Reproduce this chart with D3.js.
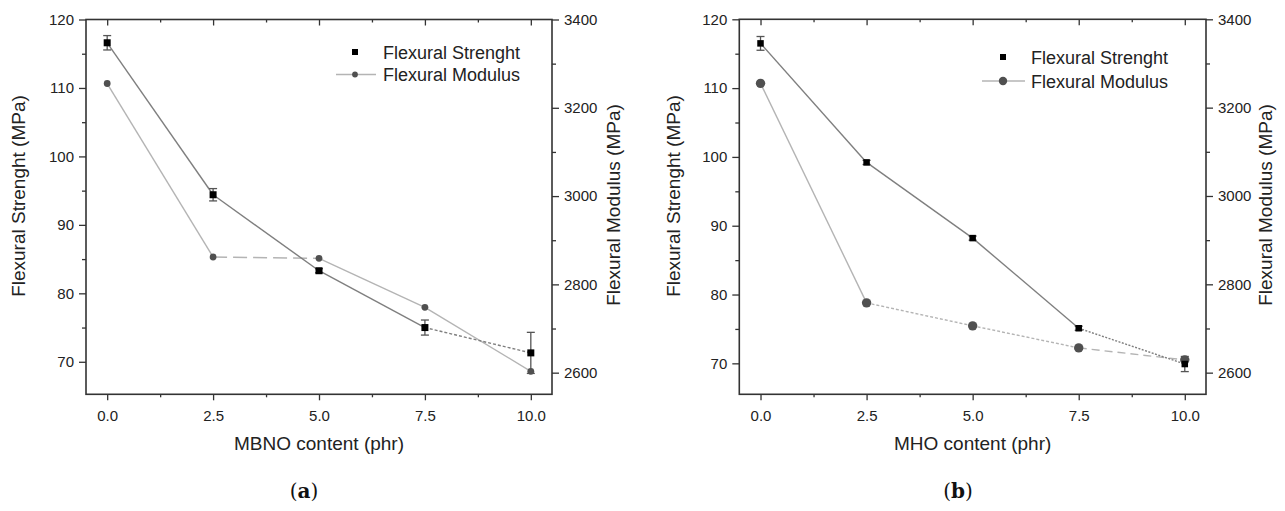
<!DOCTYPE html>
<html>
<head>
<meta charset="utf-8">
<script src="https://cdn.jsdelivr.net/npm/d3@7"></script>
<style>
  html, body { margin: 0; padding: 0; background: #fff; }
  svg { display: block; }
  text { fill: #222; }
</style>
</head>
<body>
<svg id="chart" width="1285" height="511"></svg>
<script>
// Filler content (phr)
const contentPhr = [0, 2.5, 5, 7.5, 10];
const xTicks = [0, 2.5, 5, 7.5, 10];
const xMinorTicks = [1.25, 3.75, 6.25, 8.75];

// MBNO series
const strengthMBNO = [116.6, 94.4, 83.3, 75.0, 71.3];
const strengthErrMBNO = [1.05, 0.9, 0.3, 1.1, 3.0];
const modulusMBNO = [3255, 2862, 2859, 2748, 2603];

// MHO series
const strengthMHO = [116.5, 99.2, 88.2, 75.1, 69.9];
const strengthErrMHO = [1.0, 0.3, 0.3, 0.3, 1.1];
const modulusMHO = [3255, 2758, 2706, 2656, 2629];

// Axis ticks
const strengthTicks = [70, 80, 90, 100, 110, 120];
const strengthMinorTicks = [75, 85, 95, 105, 115];
const modulusTicks = [2600, 2800, 3000, 3200, 3400];
const modulusMinorTicks = [2700, 2900, 3100, 3300];

// Labels
const legendLabels = ["Flexural Strenght", "Flexural Modulus"];
const strengthTitle = "Flexural Strenght (MPa)";
const modulusTitle = "Flexural Modulus (MPa)";

// Per-segment line styles (dash patterns)
const dashStrengthA = [null, null, null, "3,2"];
const dashModulusA = [null, "14,6", null, null];
const dashStrengthB = [null, null, null, "2,1.5"];
const dashModulusB = [null, "3,2", "3,2", "8,5"];

const SANS = "Arial, 'Liberation Sans', sans-serif";
const SERIF = "'DejaVu Serif', 'Liberation Serif', serif";

const svg = d3.select("#chart");

const STRENGTH_LINE = "#7f7f7f";
const MODULUS_LINE = "#b4b4b4";
const AXIS_COLOR = "#333";

function drawPanel(cfg) {
  const { left, right, top, bottom } = cfg.box;
  const g = svg.append("g").style("font-family", SANS);

  const x = d3.scaleLinear().domain([-0.5, 10.5]).range([left, right]);
  const yL = d3.scaleLinear().domain(cfg.strengthDomain).range([bottom, top]);
  const yR = d3.scaleLinear().domain([2551, 3400]).range([bottom, top]);

  const styleAxis = sel => {
    sel.attr("font-family", null).attr("font-size", null);
    sel.select(".domain").remove();
    sel.selectAll("line").attr("stroke", AXIS_COLOR).attr("stroke-width", 1.3);
    sel.selectAll("text").attr("font-size", 15).attr("fill", "#222");
  };

  // Bottom axis
  g.append("g").attr("transform", `translate(0,${bottom})`)
    .call(d3.axisBottom(x).tickValues(xTicks).tickSize(6).tickPadding(10)
      .tickFormat(d3.format(".1f")))
    .call(styleAxis);
  g.append("g").attr("transform", `translate(0,${bottom})`)
    .call(d3.axisBottom(x).tickValues(xMinorTicks).tickSize(3).tickFormat(""))
    .call(styleAxis);
  // Top axis, ticks pointing inward
  g.append("g").attr("transform", `translate(0,${top})`)
    .call(d3.axisTop(x).tickValues(xTicks).tickSize(-6).tickFormat(""))
    .call(styleAxis);
  g.append("g").attr("transform", `translate(0,${top})`)
    .call(d3.axisTop(x).tickValues(xMinorTicks).tickSize(-3).tickFormat(""))
    .call(styleAxis);
  // Left axis (strength)
  g.append("g").attr("transform", `translate(${left},0)`)
    .call(d3.axisLeft(yL).tickValues(strengthTicks).tickSize(7).tickPadding(5)
      .tickFormat(d3.format("d")))
    .call(styleAxis);
  g.append("g").attr("transform", `translate(${left},0)`)
    .call(d3.axisLeft(yL).tickValues(strengthMinorTicks).tickSize(4).tickFormat(""))
    .call(styleAxis);
  // Right axis (modulus)
  g.append("g").attr("transform", `translate(${right},0)`)
    .call(d3.axisRight(yR).tickValues(modulusTicks).tickSize(7).tickPadding(5)
      .tickFormat(d3.format("d")))
    .call(styleAxis);
  g.append("g").attr("transform", `translate(${right},0)`)
    .call(d3.axisRight(yR).tickValues(modulusMinorTicks).tickSize(4).tickFormat(""))
    .call(styleAxis);

  // Frame
  g.append("rect")
    .attr("x", left).attr("y", top)
    .attr("width", right - left).attr("height", bottom - top)
    .attr("fill", "none").attr("stroke", AXIS_COLOR).attr("stroke-width", 1.6);

  // Segments drawn one by one so each can carry its own dash pattern
  function segments(values, scale, dashes, color, width) {
    const pts = contentPhr.map((c, i) => [x(c), scale(values[i])]);
    const pairs = d3.pairs(pts);
    g.append("g").selectAll("line").data(pairs).join("line")
      .attr("x1", d => d[0][0]).attr("y1", d => d[0][1])
      .attr("x2", d => d[1][0]).attr("y2", d => d[1][1])
      .attr("stroke", color).attr("stroke-width", width)
      .attr("stroke-dasharray", (d, i) => dashes[i]);
  }

  segments(cfg.modulus, yR, cfg.dashModulus, MODULUS_LINE, 1.4);
  segments(cfg.strength, yL, cfg.dashStrength, STRENGTH_LINE, 1.4);

  // Error bars on strength
  const eb = g.append("g").attr("stroke", "#555").attr("stroke-width", 1.3);
  contentPhr.forEach((c, i) => {
    const cx = x(c);
    const y1 = yL(cfg.strength[i] + cfg.strengthErr[i]);
    const y2 = yL(cfg.strength[i] - cfg.strengthErr[i]);
    eb.append("line").attr("x1", cx).attr("x2", cx).attr("y1", y1).attr("y2", y2);
    eb.append("line").attr("x1", cx - 4).attr("x2", cx + 4).attr("y1", y1).attr("y2", y1);
    eb.append("line").attr("x1", cx - 4).attr("x2", cx + 4).attr("y1", y2).attr("y2", y2);
  });

  // Modulus markers
  g.append("g").selectAll("circle").data(cfg.modulus).join("circle")
    .attr("cx", (d, i) => x(contentPhr[i])).attr("cy", d => yR(d))
    .attr("r", cfg.circleR).attr("fill", "#505050");

  // Strength markers
  const s = cfg.squareSize;
  g.append("g").selectAll("rect").data(cfg.strength).join("rect")
    .attr("x", (d, i) => x(contentPhr[i]) - s / 2).attr("y", d => yL(d) - s / 2)
    .attr("width", s).attr("height", s).attr("fill", "#000");

  // Legend
  const L = cfg.legend;
  g.append("rect").attr("x", L.markX - 3).attr("y", L.row1 - 3)
    .attr("width", 6).attr("height", 6).attr("fill", "#000");
  g.append("line").attr("x1", L.lineX1).attr("x2", L.lineX2)
    .attr("y1", L.row2).attr("y2", L.row2)
    .attr("stroke", MODULUS_LINE).attr("stroke-width", 1.3);
  g.append("circle").attr("cx", L.markX).attr("cy", L.row2)
    .attr("r", cfg.circleR - 0.5).attr("fill", "#505050");
  g.append("text").attr("x", L.textX).attr("y", L.row1 + 6.5)
    .attr("font-size", 18).text(legendLabels[0]);
  g.append("text").attr("x", L.textX).attr("y", L.row2 + 6.5)
    .attr("font-size", 18).text(legendLabels[1]);

  // Axis titles
  g.append("text")
    .attr("transform", `translate(${cfg.leftTitleX},${cfg.leftTitleY}) rotate(-90)`)
    .attr("text-anchor", "middle").attr("font-size", 19).text(strengthTitle);
  g.append("text")
    .attr("transform", `translate(${cfg.rightTitleX},${cfg.rightTitleY}) rotate(-90)`)
    .attr("text-anchor", "middle").attr("font-size", 19).text(modulusTitle);
  g.append("text")
    .attr("x", x(5)).attr("y", 450)
    .attr("text-anchor", "middle").attr("font-size", 19).text(cfg.xTitle);

  // Panel caption
  const cap = g.append("text")
    .attr("x", cfg.captionX).attr("y", 498)
    .attr("text-anchor", "middle")
    .style("font-family", SERIF)
    .attr("font-size", 20).style("fill", "#111");
  cap.append("tspan").text("(");
  cap.append("tspan").attr("font-weight", "bold").text(cfg.caption);
  cap.append("tspan").text(")");
}

drawPanel({
  box: { left: 86, right: 552, top: 19.5, bottom: 394.3 },
  strengthDomain: [65.25, 120],
  strength: strengthMBNO,
  strengthErr: strengthErrMBNO,
  modulus: modulusMBNO,
  dashStrength: dashStrengthA,
  dashModulus: dashModulusA,
  circleR: 3.4,
  squareSize: 7,
  legend: { markX: 355, lineX1: 336, lineX2: 376, textX: 383, row1: 52, row2: 74.5 },
  leftTitleX: 25, leftTitleY: 196,
  rightTitleX: 620, rightTitleY: 205,
  xTitle: "MBNO content (phr)",
  caption: "a",
  captionX: 304
});

drawPanel({
  box: { left: 739.3, right: 1206, top: 19.3, bottom: 394.3 },
  strengthDomain: [65.5, 120],
  strength: strengthMHO,
  strengthErr: strengthErrMHO,
  modulus: modulusMHO,
  dashStrength: dashStrengthB,
  dashModulus: dashModulusB,
  circleR: 4.7,
  squareSize: 6.5,
  legend: { markX: 1003, lineX1: 982, lineX2: 1025, textX: 1031, row1: 57, row2: 81 },
  leftTitleX: 680, leftTitleY: 196,
  rightTitleX: 1272, rightTitleY: 205,
  xTitle: "MHO content (phr)",
  caption: "b",
  captionX: 958
});
</script>
</body>
</html>
